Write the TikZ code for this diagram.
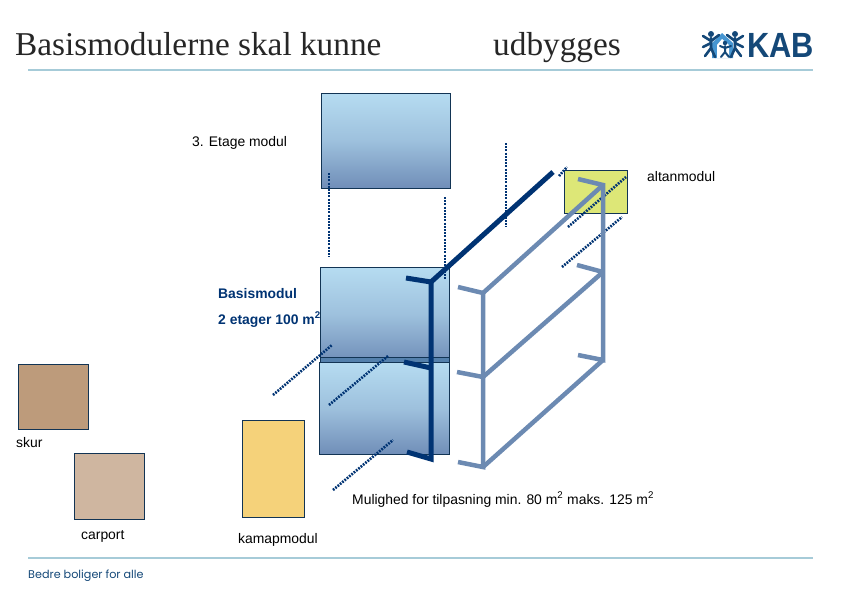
\documentclass[tikz,border=0pt]{standalone}
\usepackage{fontspec}
\usepackage{xcolor}
\usepackage{tikz}
\setmainfont{Liberation Sans}
\newfontfamily\titlefont{Liberation Serif}
\newfontfamily\sloganfont{Poppins}
\usetikzlibrary{positioning}
\definecolor{navy}{RGB}{0,51,115}
\definecolor{steel}{RGB}{108,138,178}
\definecolor{edge}{RGB}{18,52,84}
\definecolor{modtop}{RGB}{182,220,241}
\definecolor{modbot}{RGB}{112,142,184}
\definecolor{bandcol}{RGB}{84,128,172}
\definecolor{rulecol}{RGB}{166,203,216}
\definecolor{logoblue}{RGB}{20,72,120}
\definecolor{logosky}{RGB}{70,150,210}
\definecolor{altancol}{RGB}{221,231,119}
\definecolor{skurcol}{RGB}{189,155,123}
\definecolor{carportcol}{RGB}{207,182,160}
\definecolor{kamapcol}{RGB}{245,210,122}

\begin{document}
\begin{tikzpicture}[x=1pt,y=-1pt,
  modul/.style={draw=edge,line width=0.8pt,top color=modtop,bottom color=modbot,middle color=modtop!65!modbot,inner sep=0pt,outer sep=0pt},
  flat/.style={draw=edge,line width=0.8pt,inner sep=0pt,outer sep=0pt},
  lbl/.style={font=\fontsize{13.9}{15}\selectfont,inner sep=0pt,anchor=base west},
  boldlbl/.style={lbl,font=\bfseries\fontsize{13.9}{15}\selectfont,text=navy},
  head/.style={font=\titlefont\fontsize{33.3}{36}\selectfont,text=black!85,inner sep=0pt,anchor=base west},
  darkbar/.style={draw=navy,line width=5pt},
  lightbar/.style={draw=steel,line width=4.5pt},
  dots/.style={draw=navy,line width=2.6pt,dash pattern=on 1.8pt off 1.2pt},
  vdots/.style={draw=navy,line width=2pt,dash pattern=on 2pt off 1.2pt},
  logoline/.style={draw=logoblue,line width=2.6pt,line cap=round,line join=round}
]
\useasboundingbox (0,0) rectangle (842,595);
% Header and footer
\node[head] (title1) at (15,55) {Basismodulerne skal kunne};
\node[head] (title2) at (493,55) {udbygges};
\coordinate (ruleL) at (28,70);
\coordinate (ruleR) at (813,70);
\coordinate (footL) at (28,558);
\coordinate (footR) at (813,558);
\draw[rulecol,line width=1.5pt] (ruleL) -- (ruleR);
\draw[rulecol,line width=1.5pt] (footL) -- (footR);
\node[inner sep=0pt,anchor=base west,text=logoblue,font=\sloganfont\fontsize{11.2}{12}\selectfont] (slogan) at (28,578) {Bedre boliger for alle};
\node[inner sep=0pt,anchor=base west,text=logoblue,xscale=0.88,transform shape,font=\bfseries\fontsize{35}{35}\selectfont] (kab) at (747,57) {KAB};

% Logo
\fill[logosky] (712,43) -- (722,33) -- (733,43) -- (733,58) -- (712,58) -- cycle;
\fill[white] (717,58) -- (717,45) -- (722,39) -- (729,45) -- (729,58) -- cycle;
\foreach \fx/\dir in {711/1,735/-1} {
  \fill[logoblue] (\fx,34) circle (3);
  \draw[logoline] (\fx-8*\dir,36) -- (\fx,41) -- (\fx+8*\dir,35);
  \draw[logoline] (\fx-8*\dir,47) -- (\fx,43);
  \draw[logoline] (\fx,38) -- (\fx,48) -- (\fx-6*\dir,56);
  \draw[logoline] (\fx,48) -- (\fx+4*\dir,57);
}
\fill[logoblue] (725,43) circle (2.2);
\draw[logoline,line width=2pt] (720,46) -- (725,48) -- (731,46);
\draw[logoline,line width=2pt] (725,46) -- (725,52) -- (721,57);
\draw[logoline,line width=2pt] (725,52) -- (729,57);

% Modules
\node[modul,minimum width=129pt,minimum height=95pt] (etage3) at (385.5,140.5) {};
\node[modul,minimum width=130pt,minimum height=92pt] (lower) at (384,408) {};
\node[modul,minimum width=129pt,minimum height=95pt] (upper) at (384.5,314.5) {};
\node[flat,fill=bandcol,minimum width=129pt,minimum height=5pt] (band) at (384.5,359.5) {};
\node[flat,fill=altancol,minimum width=63pt,minimum height=43pt] (altan) at (595.5,191.5) {};
\node[flat,fill=skurcol,minimum width=70pt,minimum height=65pt] (skur) at (53,396.5) {};
\node[flat,fill=carportcol,minimum width=70pt,minimum height=66pt] (carport) at (109,486) {};
\node[flat,fill=kamapcol,minimum width=62pt,minimum height=97pt] (kamap) at (273,468.5) {};

% Labels
\node[lbl] (l3) at (192,146) {3. Etage modul};
\node[lbl] (laltan) at (647,181) {altanmodul};
\node[boldlbl] (lbasis) at (218,298) {Basismodul};
\node[boldlbl] (l2et) at (218,324) {2 etager 100 m\textsuperscript{2}};
\node[lbl] (lskur) at (16,447) {skur};
\node[lbl] (lcarport) at (81,539) {carport};
\node[lbl] (lkamap) at (238,543) {kamapmodul};
\node[lbl] (lmulig) at (352,504) {Mulighed for tilpasning min. 80 m\textsuperscript{2} maks. 125 m\textsuperscript{2}};

% Dotted guides
\coordinate (g1a) at (329,173); \coordinate (g1b) at (329,257);
\coordinate (g2a) at (445,197); \coordinate (g2b) at (445,280);
\coordinate (g3a) at (506,143); \coordinate (g3b) at (506,227);
\coordinate (g4a) at (559,176); \coordinate (g4b) at (567,167);
\coordinate (g5a) at (568,227); \coordinate (g5b) at (626,177);
\coordinate (g6a) at (562,267); \coordinate (g6b) at (622,217);
\coordinate (g7a) at (273,395); \coordinate (g7b) at (332,345);
\coordinate (g8a) at (329,405); \coordinate (g8b) at (388,356);
\coordinate (g9a) at (333,490); \coordinate (g9b) at (393,440);
\foreach \g in {1,2,3}
  \draw[vdots] (g\g a) -- (g\g b);
\foreach \g in {4,...,9}
  \draw[dots] (g\g a) -- (g\g b);

% Dark frame
\coordinate (dtop) at (431,282);
\coordinate (dbot) at (431,459);
\coordinate (dend) at (553,172);
\coordinate (dt1) at (406,278);
\coordinate (dt2) at (407,452);
\coordinate (dm1) at (404,362);
\coordinate (dm2) at (431,368);
\draw[darkbar] (dt1) -- (dtop) -- (dbot) -- (dt2);
\draw[darkbar] (dtop) -- (dend);
\draw[darkbar] (dm1) -- (dm2);

% Light frame
\coordinate (ltop) at (483,293);
\coordinate (lmid) at (483,377);
\coordinate (lbot) at (483,467);
\coordinate (rtop) at (603,185);
\coordinate (rmid) at (603,272);
\coordinate (rbot) at (603,360);
\coordinate (lt1) at (458,287);
\coordinate (lt2) at (457,372);
\coordinate (lt3) at (458,462);
\coordinate (rt1) at (578,179);
\coordinate (rt2) at (577,265);
\coordinate (rt3) at (578,355);
\draw[lightbar] (lt1) -- (ltop) -- (lmid) -- (lbot) -- (lt3);
\draw[lightbar] (lt2) -- (lmid);
\draw[lightbar] (rt1) -- (rtop) -- (rmid) -- (rbot) -- (rt3);
\draw[lightbar] (rt2) -- (rmid);
\draw[lightbar] (ltop) -- (rtop);
\draw[lightbar] (lmid) -- (rmid);
\draw[lightbar] (lbot) -- (rbot);
\end{tikzpicture}
\end{document}
